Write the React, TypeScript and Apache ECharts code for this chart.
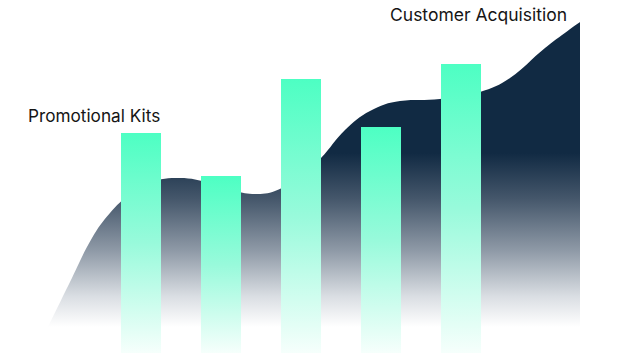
import React, { useEffect, useRef } from "react";
import * as echarts from "echarts";

const categories = ["A", "B", "C", "D", "E"];
const barValues = [220, 177, 274, 226, 289];

const areaX = [0, 22, 44, 62, 82, 102, 132, 162, 187, 207, 227, 252, 273, 297, 322, 352, 392, 432, 462, 497, 532];
const areaY = [0, 45, 89, 114, 133, 145, 149, 144, 136, 133, 136, 150, 169, 197, 216, 226, 228, 235, 249, 279, 305];

const labels = ["Promotional Kits", "Customer Acquisition"];

export default function App() {
  const ref = useRef<HTMLDivElement>(null);
  useEffect(() => {
    if (!ref.current) return;
    const chart = echarts.init(ref.current, null, { renderer: "svg" });
    const font = "Inter";
    chart.setOption({
      animation: false,
      backgroundColor: "#ffffff",
      title: [
        {
          text: labels[0],
          left: 28,
          top: 107,
          padding: 0,
          textStyle: { fontSize: 17.2, fontWeight: "normal", color: "#151515", fontFamily: font },
        },
        {
          text: labels[1],
          left: 390,
          top: 5,
          padding: 0,
          textStyle: { fontSize: 17.5, fontWeight: "normal", color: "#151515", fontFamily: font },
        },
      ],
      grid: [
        { left: 101, width: 400, top: 0, height: 353 },
        { left: 48, width: 532, top: 0, height: 327 },
      ],
      xAxis: [
        { type: "category", data: categories, gridIndex: 0, show: false },
        { type: "value", min: 0, max: 532, gridIndex: 1, show: false },
      ],
      yAxis: [
        { type: "value", min: 0, max: 353, gridIndex: 0, show: false },
        { type: "value", min: 0, max: 327, gridIndex: 1, show: false },
      ],
      series: [
        {
          type: "line",
          xAxisIndex: 1,
          yAxisIndex: 1,
          data: areaX.map((x, i) => [x, areaY[i]]),
          smooth: 0.4,
          showSymbol: false,
          lineStyle: { width: 0 },
          z: 1,
          areaStyle: {
            opacity: 1,
            color: new echarts.graphic.LinearGradient(0, 0, 0, 1, [
              { offset: 0, color: "#112a43" },
              { offset: 0.43, color: "#112a43" },
              { offset: 0.58, color: "#45576b" },
              { offset: 0.75, color: "#8f9aa7" },
              { offset: 0.9, color: "#dadee3" },
              { offset: 1, color: "#ffffff" },
            ]),
          },
        },
        {
          type: "bar",
          xAxisIndex: 0,
          yAxisIndex: 0,
          data: barValues,
          barWidth: 40,
          z: 2,
          itemStyle: {
            color: new echarts.graphic.LinearGradient(0, 0, 0, 1, [
              { offset: 0, color: "#4dffc3" },
              { offset: 0.5, color: "#98fadb" },
              { offset: 1, color: "#f6fffc" },
            ]),
          },
        },
      ],
    });
    return () => chart.dispose();
  }, []);
  return (
    <div
      ref={ref}
      style={{ position: "fixed", left: 0, top: 0, width: 628, height: 353 }}
    />
  );
}
